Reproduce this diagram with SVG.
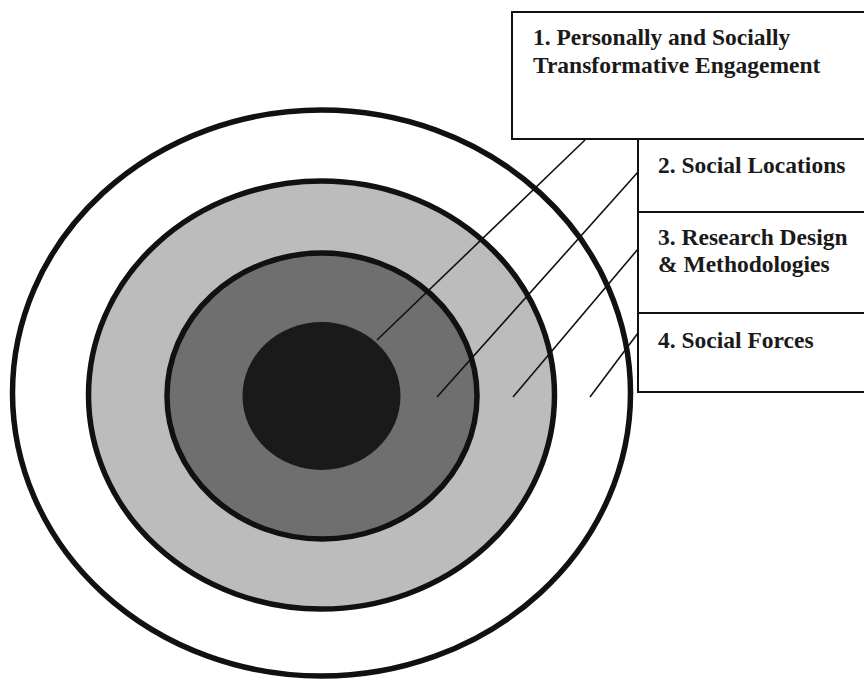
<svg xmlns="http://www.w3.org/2000/svg" width="864" height="679" viewBox="0 0 864 679">
<style>
.ring{stroke:#111;stroke-width:5.5}
.box{fill:#fff;stroke:#111;stroke-width:2}
.lbl{font-family:"Liberation Serif","Times New Roman",serif;font-weight:bold;font-size:23.5px;fill:#1a1a1a}
.lead{stroke:#111;stroke-width:1.6;fill:none}
</style>
<rect width="864" height="679" fill="#fff"/>
<g id="ring-outer"><ellipse class="ring" cx="321.5" cy="393" rx="309" ry="283" fill="#fff"/></g>
<g id="ring-2"><ellipse class="ring" cx="321.5" cy="395" rx="233" ry="214" fill="#bcbcbc"/></g>
<g id="ring-3"><ellipse class="ring" cx="322" cy="396" rx="155" ry="143" fill="#6f6f6f"/></g>
<g id="core"><ellipse cx="321.5" cy="396" rx="79" ry="74" fill="#1a1a1a"/></g>
<g id="box-1">
<rect class="box" x="512" y="12" width="360" height="127"/>
<text class="lbl" x="533" y="45">1. Personally and Socially</text>
<text class="lbl" x="533" y="73">Transformative Engagement</text>
</g>
<g id="box-2">
<rect class="box" x="638" y="139" width="234" height="73"/>
<text class="lbl" x="658" y="173">2. Social Locations</text>
</g>
<g id="box-3">
<rect class="box" x="638" y="212" width="234" height="101"/>
<text class="lbl" x="658" y="245">3. Research Design</text>
<text class="lbl" x="658" y="272">&amp; Methodologies</text>
</g>
<g id="box-4">
<rect class="box" x="638" y="313" width="234" height="79"/>
<text class="lbl" x="658" y="348">4. Social Forces</text>
</g>
<g id="connectors">
<line class="lead" x1="585" y1="140" x2="377" y2="340"/>
<line class="lead" x1="638" y1="172" x2="437" y2="397"/>
<line class="lead" x1="638" y1="249" x2="513" y2="397"/>
<line class="lead" x1="638" y1="333" x2="590" y2="397"/>
</g>
</svg>
